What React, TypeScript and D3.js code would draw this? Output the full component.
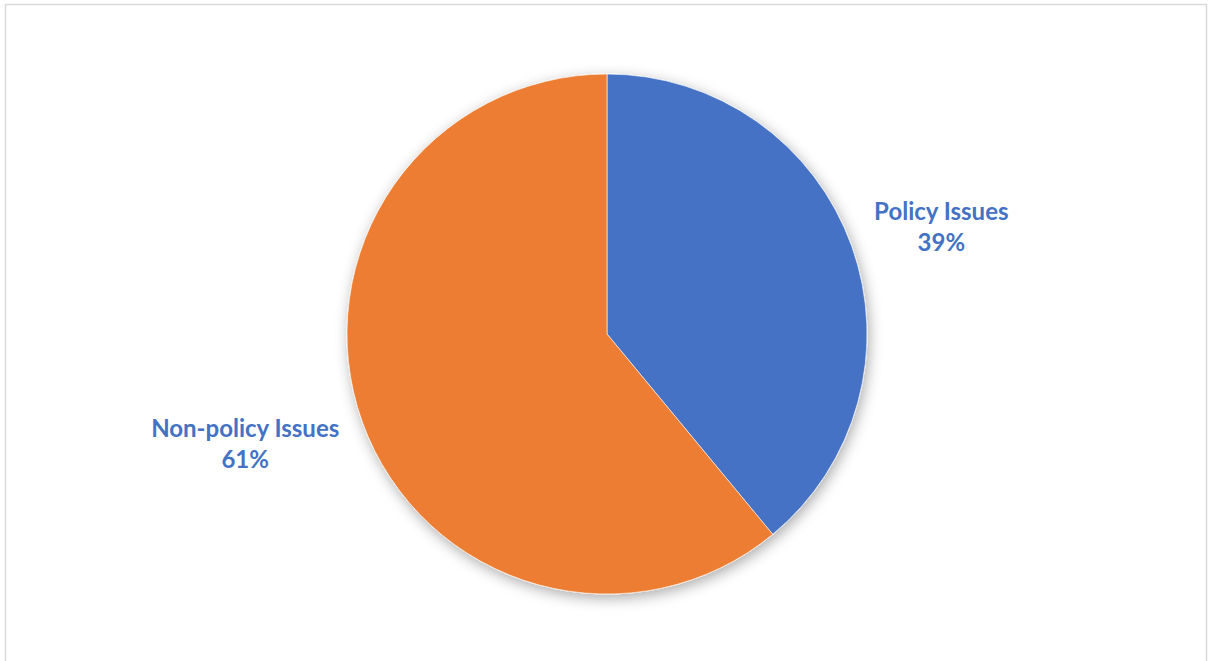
import React from "react";
import * as d3 from "d3";

const categories = ["Policy Issues", "Non-policy Issues"];
const values = [39, 61];
const colors = ["#4472C4", "#ED7D31"];
const labelText = ["39%", "61%"];

const W = 1208;
const H = 661;

export default function App() {
  const cx = 607;
  const cy = 334;
  const r = 260;
  const pie = d3.pie<number>().sort(null).value((d) => d).startAngle(0).endAngle(2 * Math.PI);
  const arcs = pie(values);
  const arcGen = d3.arc<d3.PieArcDatum<number>>().innerRadius(0).outerRadius(r);
  const labelArc = d3.arc<d3.PieArcDatum<number>>().innerRadius(350).outerRadius(350);
  const xShift = [5, -32.5];
  const yShift = [5, -16];

  return (
    <svg
      width={W}
      height={H}
      style={{ position: "absolute", left: 0, top: 0, background: "#fff" }}
    >
      <defs>
        <filter id="sh" x="-20%" y="-20%" width="140%" height="140%">
          <feDropShadow dx="2" dy="4" stdDeviation="7" floodColor="#000" floodOpacity="0.33" />
        </filter>
      </defs>
      <rect x={5.5} y={4.5} width={1201} height={720} fill="#fff" stroke="#d9d9d9" strokeWidth={1.5} />
      <g transform={`translate(${cx},${cy})`}>
        <g filter="url(#sh)">
          {arcs.map((a, i) => (
            <path key={i} d={arcGen(a) || ""} fill={colors[i]} stroke="#fff" strokeWidth={0.6} />
          ))}
        </g>
        {arcs.map((a, i) => {
          const [lx, ly] = labelArc.centroid(a);
          return (
            <text
              key={i}
              x={lx + xShift[i]}
              y={ly + yShift[i]}
              textAnchor="middle"
              fill="#4472C4"
              fontFamily="Lato, 'Open Sans', sans-serif"
              fontWeight="bold"
              fontSize={24}
            >
              <tspan x={lx + xShift[i]} dy={0}>{categories[i]}</tspan>
              <tspan x={lx + xShift[i]} dy={31}>{labelText[i]}</tspan>
            </text>
          );
        })}
      </g>
    </svg>
  );
}
